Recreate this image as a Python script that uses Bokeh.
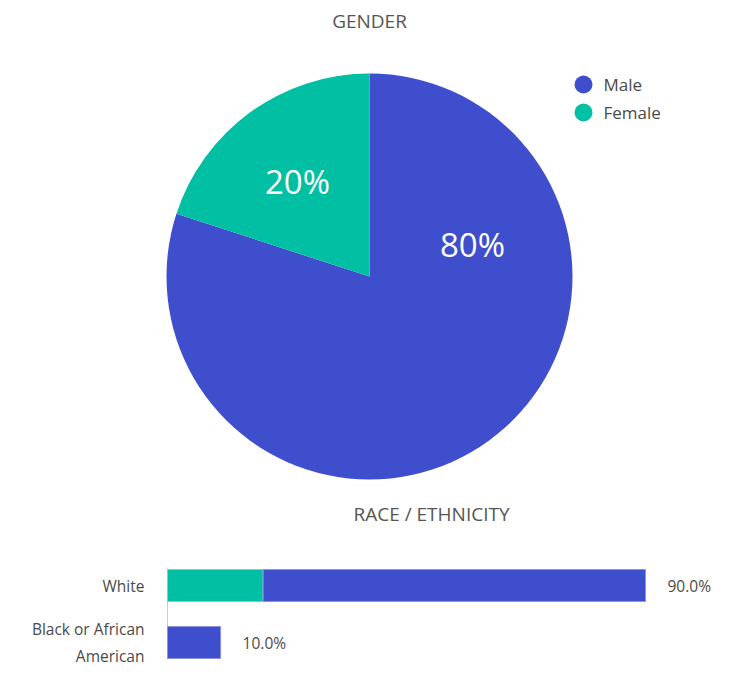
import math
from bokeh.plotting import figure
from bokeh.layouts import column
from bokeh.models import Range1d, ColumnDataSource
from bokeh.core.properties import value
from bokeh.embed import file_html
from bokeh.resources import INLINE

# ---- data ----
gender_labels = ["Male", "Female"]
gender_values = [80, 20]
gender_colors = ["#3f4ecc", "#00bfa3"]

race_categories = ["White", "Black or African\nAmerican"]
race_female = [18.0, 0.0]
race_male = [72.0, 10.0]
race_totals = [90.0, 10.0]

FONT = value("Open Sans")
TITLE_COLOR = "#555555"
TEXT_COLOR = "#4a4a4a"

# ---- pie figure (data units = pixels, centre at pie centre) ----
W = 713
p1 = figure(width=W, height=500, output_backend="svg", toolbar_location=None,
            x_range=Range1d(-369, W - 369), y_range=Range1d(276 - 500, 276),
            min_border=0, outline_line_color=None)
p1.axis.visible = False
p1.grid.visible = False

R = 203
total = sum(gender_values)
start = math.pi / 2
f_end = start + 2 * math.pi * gender_values[1] / total
wedges = dict(
    start=[f_end, start],
    end=[start + 2 * math.pi, f_end],
    color=[gender_colors[0], gender_colors[1]],
)
p1.wedge(x=0, y=0, radius=R, start_angle="start", end_angle="end",
         color="color", source=ColumnDataSource(wedges), line_color=None)

label_pos = {"Male": (103, 32), "Female": (-72, 95)}
for lab, v in zip(gender_labels, gender_values):
    x, y = label_pos[lab]
    p1.text(x=[x], y=[y], text=[f"{v}%"], text_color="white",
            text_font=FONT, text_font_size="33px", text_align="center",
            text_baseline="middle")

p1.text(x=[0], y=[256], text=["GENDER"], text_color=TITLE_COLOR,
        text_font=FONT, text_font_size="19px", text_align="center",
        text_baseline="middle")

# legend
leg_y = [192, 164]
p1.scatter(x=[214, 214], y=leg_y, size=18, color=gender_colors, line_color=None)
p1.text(x=[234, 234], y=leg_y, text=gender_labels, text_color=TEXT_COLOR,
        text_font=FONT, text_font_size="17px", text_align="left",
        text_baseline="middle")

# ---- bar figure ----
pxper = 478 / 90.0
yper = 57.0
yc = 585  # screen y of first bar centre
p2 = figure(width=W, height=166, output_backend="svg", toolbar_location=None,
            x_range=Range1d(-167 / pxper, (W - 167) / pxper),
            y_range=Range1d((666 - yc) / yper, (500 - yc) / yper),
            min_border=0, outline_line_color=None)
p2.axis.visible = False
p2.grid.visible = False

ys = list(range(len(race_categories)))
h = 32 / yper
p2.segment(x0=[0], y0=[-h / 2], x1=[0], y1=[ys[-1] + h / 2],
           line_color="#cccccc", line_width=1)
p2.hbar(y=ys, left=0, right=race_female, height=h, color=gender_colors[1],
        line_color="#6fd8c6", line_width=1)
lefts = race_female
rights = [f + m for f, m in zip(race_female, race_male)]
p2.hbar(y=ys, left=lefts, right=rights, height=h, color=gender_colors[0],
        line_color="#8b94dc", line_width=1)

p2.text(x=race_totals, y=ys, text=[f"{t:.1f}%" for t in race_totals],
        x_offset=22, text_color=TEXT_COLOR, text_font=FONT,
        text_font_size="15.5px", text_align="left", text_baseline="middle")
p2.text(x=[-23 / pxper] * len(ys), y=ys, text=race_categories,
        text_color=TEXT_COLOR, text_font=FONT, text_font_size="15.5px",
        text_align="right", text_baseline="middle", text_line_height=1.2)

p2.text(x=[(431 - 167) / pxper], y=[(513 - yc) / yper], text=["RACE / ETHNICITY"],
        text_color=TITLE_COLOR, text_font=FONT, text_font_size="19px",
        text_align="center", text_baseline="middle")

layout = column(p1, p2, spacing=0)
open("out.html", "w").write(file_html(layout, INLINE))
